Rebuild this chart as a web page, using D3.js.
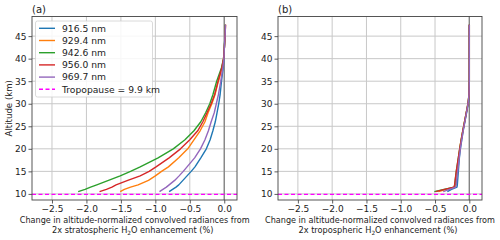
<!DOCTYPE html>
<html><head><meta charset="utf-8">
<script src="https://cdn.jsdelivr.net/npm/d3@7"></script>
<style>body{margin:0;background:#fff} text{font-family:"DejaVu Sans",sans-serif;fill:#222}</style>
</head><body><svg id="c" width="500" height="240"></svg>
<script>
// ---- data ----
const altitudes = [10.5, 11, 11.5, 12, 13, 14, 15, 16, 18, 20, 22, 24, 26, 28, 30, 32, 35, 38, 40, 42, 45, 47.5];
const wavelengths = ["916.5 nm", "929.4 nm", "942.6 nm", "956.0 nm", "969.7 nm"];
const tropopauseKm = 9.9;
const tropopauseLabel = "Tropopause = 9.9 km";
// (a) stratospheric enhancement
const strat916 = [-0.80, -0.75, -0.70, -0.66, -0.60, -0.54, -0.48, -0.425, -0.34, -0.26, -0.205, -0.165, -0.13, -0.105, -0.08, -0.06, -0.04, -0.015, -0.005, 0.0, 0.01, 0.015];
const strat929 = [-1.51, -1.45, -1.36, -1.25, -1.10, -1.00, -0.91, -0.81, -0.66, -0.53, -0.44, -0.35, -0.28, -0.235, -0.18, -0.135, -0.085, -0.03, -0.01, 0.0, 0.012, 0.018];
const strat942 = [-2.12, -2.02, -1.94, -1.85, -1.68, -1.51, -1.36, -1.22, -0.96, -0.74, -0.57, -0.44, -0.34, -0.27, -0.21, -0.165, -0.11, -0.04, -0.01, 0.0, 0.01, 0.015];
const strat956 = [-1.81, -1.71, -1.63, -1.57, -1.40, -1.22, -1.09, -0.99, -0.80, -0.635, -0.50, -0.385, -0.31, -0.25, -0.19, -0.14, -0.09, -0.035, -0.01, 0.0, 0.012, 0.018];
const strat969 = [-0.94, -0.89, -0.84, -0.80, -0.72, -0.655, -0.595, -0.54, -0.43, -0.345, -0.28, -0.23, -0.19, -0.145, -0.115, -0.085, -0.05, -0.02, -0.005, 0.0, 0.012, 0.018];
// (b) tropospheric enhancement
const trop916 = [-0.32, -0.26, -0.18, -0.175, -0.17, -0.165, -0.16, -0.155, -0.145, -0.13, -0.11, -0.09, -0.065, -0.04, -0.015, -0.003, 0, 0, 0, 0, 0, 0];
const trop929 = [-0.45, -0.33, -0.21, -0.20, -0.195, -0.19, -0.18, -0.17, -0.155, -0.14, -0.12, -0.095, -0.07, -0.045, -0.02, -0.005, 0, 0, 0, 0, 0, 0];
const trop942 = [-0.51, -0.37, -0.22, -0.21, -0.205, -0.198, -0.19, -0.18, -0.16, -0.14, -0.118, -0.095, -0.07, -0.045, -0.02, -0.005, 0, 0, 0, 0, 0, 0];
const trop956 = [-0.49, -0.36, -0.225, -0.215, -0.207, -0.198, -0.19, -0.18, -0.16, -0.14, -0.118, -0.095, -0.07, -0.044, -0.019, -0.004, 0, 0, 0, 0, 0, 0];
const trop969 = [-0.38, -0.29, -0.20, -0.19, -0.185, -0.178, -0.17, -0.162, -0.148, -0.132, -0.112, -0.09, -0.066, -0.042, -0.018, -0.004, 0, 0, 0, 0, 0, 0];
const xTicks = [-2.5, -2.0, -1.5, -1.0, -0.5, 0.0];
const yTicks = [10, 15, 20, 25, 30, 35, 40, 45];
const xDomain = [-2.79, 0.185];
const yDomain = [8.65, 49.35];

const colors = ["#1f77b4", "#ff7f0e", "#2ca02c", "#d62728", "#9467bd"];
const svg = d3.select("#c");
svg.append("rect").attr("width", 500).attr("height", 240).attr("fill", "#fff");

function panel(x0, x1, series, tag, kind, showYLabel, showLegend, labelCx) {
  const top = 16.5, bottom = 200;
  const x = d3.scaleLinear().domain(xDomain).range([x0, x1]);
  const y = d3.scaleLinear().domain(yDomain).range([bottom, top]);
  const g = svg.append("g");
  // grid
  g.selectAll(".gx").data(xTicks).enter().append("line")
    .attr("x1", d => x(d)).attr("x2", d => x(d)).attr("y1", top).attr("y2", bottom)
    .attr("stroke", "#c8c8c8").attr("stroke-width", 1);
  g.selectAll(".gy").data(yTicks).enter().append("line")
    .attr("y1", d => y(d)).attr("y2", d => y(d)).attr("x1", x0).attr("x2", x1)
    .attr("stroke", "#c8c8c8").attr("stroke-width", 1);
  // axvline at 0
  g.append("line").attr("x1", x(0)).attr("x2", x(0)).attr("y1", top).attr("y2", bottom)
    .attr("stroke", "#808080").attr("stroke-width", 1.3);
  // tropopause
  g.append("line").attr("x1", x0).attr("x2", x1).attr("y1", y(tropopauseKm)).attr("y2", y(tropopauseKm))
    .attr("stroke", "#ff00ff").attr("stroke-width", 1.2).attr("stroke-dasharray", "4,2.5");
  // curves
  const line = d3.line().x(d => x(d[0])).y(d => y(d[1]));
  series.forEach((s, i) => {
    g.append("path").datum(s.map((v, k) => [v, altitudes[k]]))
      .attr("d", line).attr("fill", "none").attr("stroke", colors[i]).attr("stroke-width", 1.4)
      .attr("stroke-linejoin", "round");
  });
  // axes
  const fmt = d3.format(".1f");
  const ax = g.append("g").attr("transform", `translate(0,${bottom})`)
    .call(d3.axisBottom(x).tickValues(xTicks).tickFormat(fmt).tickSize(3.5).tickPadding(2));
  const ay = g.append("g").attr("transform", `translate(${x0},0)`)
    .call(d3.axisLeft(y).tickValues(yTicks).tickSize(3.5).tickPadding(2));
  [ax, ay].forEach(a => {
    a.select(".domain").remove();
    a.selectAll("line").attr("stroke", "#333").attr("stroke-width", 0.8);
    a.selectAll("text").attr("font-size", "9px").attr("fill", "#222").style("font-family", "DejaVu Sans");
  });
  // frame
  g.append("rect").attr("x", x0).attr("y", top).attr("width", x1 - x0).attr("height", bottom - top)
    .attr("fill", "none").attr("stroke", "#444").attr("stroke-width", 0.9);
  // tag
  g.append("text").attr("x", x0).attr("y", 13).attr("font-size", "10px").text(tag);
  // x label
  g.append("text").attr("x", labelCx).attr("y", 223.3).attr("text-anchor", "middle").attr("font-size", "8.1px")
    .text("Change in altitude-normalized convolved radiances from");
  const t2 = g.append("text").attr("x", labelCx - 2).attr("y", 233).attr("text-anchor", "middle").attr("font-size", "8.2px");
  t2.append("tspan").text(`2x ${kind} H`);
  t2.append("tspan").attr("font-size", "5.8px").attr("dy", 2).text("2");
  t2.append("tspan").attr("dy", -2).text("O enhancement (%)");
  if (showYLabel) {
    g.append("text").attr("transform", `translate(12,${(top + bottom) / 2}) rotate(-90)`)
      .attr("text-anchor", "middle").attr("font-size", "8.6px").text("Altitude (km)");
  }
  if (showLegend) {
    const lg = g.append("g");
    lg.append("rect").attr("x", 35.5).attr("y", 21).attr("width", 117).attr("height", 76).attr("rx", 2)
      .attr("fill", "#fff").attr("fill-opacity", 0.85).attr("stroke", "#d0d0d0").attr("stroke-width", 0.8);
    const entries = wavelengths.map((w, i) => ({label: w, color: colors[i], dash: null}))
      .concat([{label: tropopauseLabel, color: "#ff00ff", dash: "4,2.5"}]);
    entries.forEach((e, i) => {
      const yy = 28.3 + i * 12.2;
      lg.append("line").attr("x1", 39).attr("x2", 55).attr("y1", yy).attr("y2", yy)
        .attr("stroke", e.color).attr("stroke-width", 1.4).attr("stroke-dasharray", e.dash);
      lg.append("text").attr("x", 62).attr("y", yy + 3.3).attr("font-size", "9.2px").text(e.label);
    });
  }
}

panel(32, 237, [strat916, strat929, strat942, strat956, strat969], "(a)", "stratospheric", true, true, 134.7);
panel(278, 482, [trop916, trop929, trop942, trop956, trop969], "(b)", "tropospheric", false, false, 380);
</script></body></html>
